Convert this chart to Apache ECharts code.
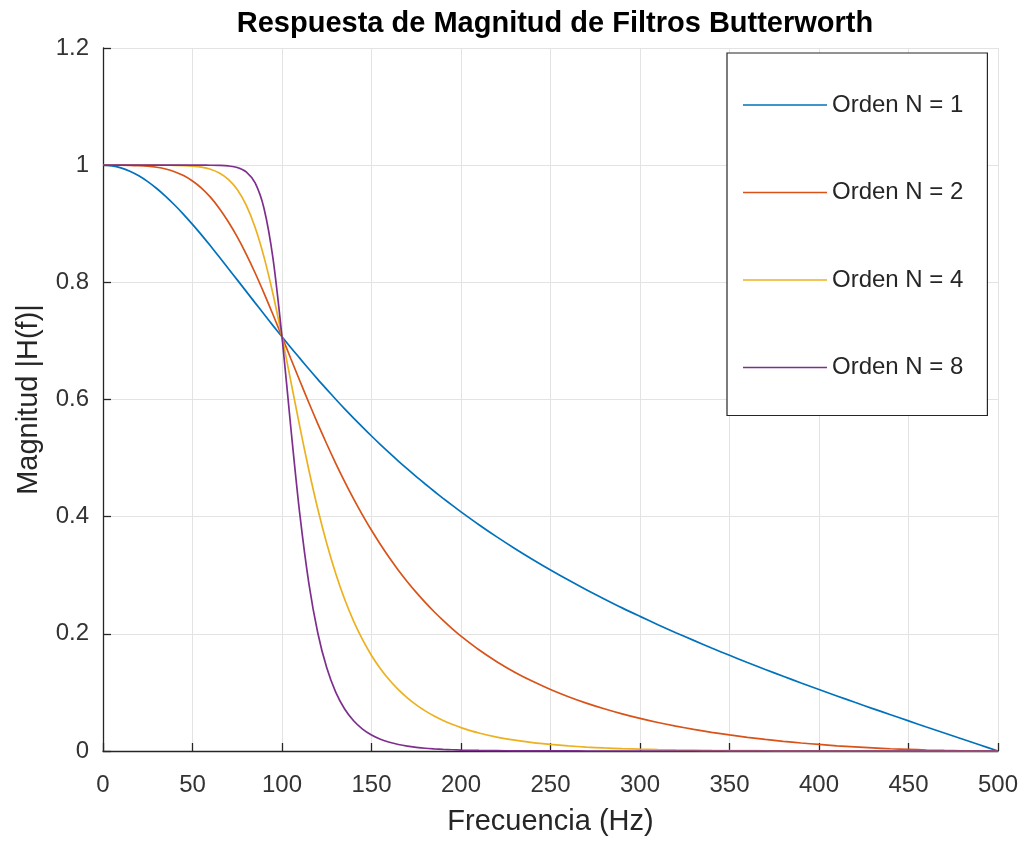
<!DOCTYPE html>
<html>
<head>
<meta charset="utf-8">
<script src="https://cdn.jsdelivr.net/npm/echarts@6/dist/echarts.min.js"></script>
<style>
html,body{margin:0;padding:0;background:#fff;}
#chart{width:1022px;height:841px;}
</style>
</head>
<body>
<div id="chart"></div>
<script>
// Frequencies (Hz)
const freq = [0,5,10,15,20,25,30,35,40,45,50,55,60,65,70,75,80,85,90,95,100,105,110,115,120,125,130,135,140,145,150,155,160,165,170,175,180,185,190,195,200,
  210,220,230,240,250,260,270,280,290,300,310,320,330,340,350,360,370,380,390,400,410,420,430,440,450,460,470,480,490,500];

const seriesNames = ['Orden N = 1','Orden N = 2','Orden N = 4','Orden N = 8'];

const magN1 = [1.0000,0.9988,0.9953,0.9896,0.9818,0.9719,0.9602,0.9468,0.9320,0.9161,0.8989,0.8810,0.8623,0.8431,0.8236,0.8042,0.7846,0.7649,0.7455,0.7261,0.7071,0.6883,0.6702,0.6521,0.6344,0.6173,0.6005,0.5841,0.5683,0.5528,0.5377,0.5230,0.5088,0.4949,0.4815,0.4684,0.4558,0.4434,0.4313,0.4196,0.4082,
  0.3863,0.3655,0.3458,0.3270,0.3090,0.2918,0.2753,0.2596,0.2443,0.2298,0.2156,0.2020,0.1888,0.1758,0.1633,0.1511,0.1392,0.1276,0.1161,0.1050,0.0940,0.0831,0.0724,0.0619,0.0514,0.0410,0.0307,0.0204,0.0102,0];

const magN2 = [1.0000,1.0000,1.0000,0.9998,0.9993,0.9983,0.9964,0.9934,0.9888,0.9822,0.9729,0.9609,0.9454,0.9262,0.9035,0.8775,0.8482,0.8159,0.7811,0.7447,0.7071,0.6692,0.6316,0.5945,0.5585,0.5240,0.4911,0.4599,0.4304,0.4027,0.3767,0.3525,0.3298,0.3086,0.2890,0.2707,0.2536,0.2377,0.2229,0.2090,0.1961,
  0.1728,0.1525,0.1346,0.1189,0.1050,0.0927,0.0818,0.0721,0.0634,0.0556,0.0487,0.0425,0.0369,0.0319,0.0274,0.0234,0.0198,0.0165,0.0137,0.0112,0.0089,0.0070,0.0053,0.0038,0.0027,0.0017,0.0009,0.0004,0.0001,0];

const magN4 = [1.0000,1.0000,1.0000,1.0000,1.0000,1.0000,1.0000,0.9999,0.9997,0.9993,0.9984,0.9966,0.9930,0.9866,0.9756,0.9584,0.9317,0.8935,0.8426,0.7796,0.7071,0.6300,0.5529,0.4796,0.4130,0.3541,0.3029,0.2590,0.2217,0.1900,0.1631,0.1404,0.1211,0.1047,0.0907,0.0788,0.0685,0.0598,0.0522,0.0456,0.0400,
  0.0308,0.0238,0.0185,0.0143,0.0112,0.0087,0.0067,0.0052,0.0040,0.0031,0.0024,0.0018,0.0014,0.0010,0.0008,0.0006,0.0004,0.0003,0.0002,0.0001,0.0001,0.0001,0,0,0,0,0,0,0,0];

const magN8 = [1.0000,1.0000,1.0000,1.0000,1.0000,1.0000,1.0000,1.0000,1.0000,1.0000,1.0000,1.0000,0.9999,0.9996,0.9987,0.9961,0.9886,0.9696,0.9257,0.8401,0.7071,0.5496,0.4029,0.2863,0.2015,0.1419,0.1005,0.0717,0.0516,0.0374,0.0273,0.0201,0.0149,0.0111,0.0083,0.0063,0.0047,0.0036,0.0027,0.0021,0.0016,
  0.0009,0.0006,0.0003,0.0002,0.0001,0.0001,0,0,0,0,0,0,0,0,0,0,0,0,0,0,0,0,0,0,0,0,0,0,0,0];

const colors = ['#0072BD','#D95319','#EDB120','#7E2F8E'];
const FONT = '"Liberation Sans", Arial, Helvetica, sans-serif';

const allMags = [magN1, magN2, magN4, magN8];

const chart = echarts.init(document.getElementById('chart'), null, {renderer:'canvas'});
chart.setOption({
  animation: false,
  backgroundColor: '#ffffff',
  color: colors,
  title: {
    text: 'Respuesta de Magnitud de Filtros Butterworth',
    left: 550,
    textAlign: 'center',
    top: 4,
    textStyle: {fontFamily: FONT, fontSize: 29, fontWeight: 'bold', color: '#000'}
  },
  grid: {left: 103, right: 24, top: 48, bottom: 88, containLabel: false},
  legend: {
    orient: 'vertical',
    left: 727,
    top: 53,
    padding: [40, 24, 36, 16],
    icon: 'rect',
    itemWidth: 84,
    itemHeight: 1.7,
    itemGap: 63.5,
    itemTextGap: 7,
    backgroundColor: '#ffffff',
    borderColor: '#262626',
    borderWidth: 1.2,
    borderRadius: 0,
    textStyle: {fontFamily: FONT, fontSize: 24, color: '#262626', lineHeight: 24},
    data: seriesNames
  },
  xAxis: {
    type: 'value',
    min: 0, max: 500, interval: 50,
    name: 'Frecuencia (Hz)',
    nameLocation: 'middle',
    nameGap: 56,
    nameTextStyle: {fontFamily: FONT, fontSize: 29, color: '#262626'},
    axisLine: {show: true, onZero: false, lineStyle: {color: '#262626', width: 1.3}},
    axisTick: {show: true, inside: true, length: 8, lineStyle: {color: '#262626', width: 1.3}},
    axisLabel: {fontFamily: FONT, fontSize: 24, color: '#333', margin: 22},
    splitLine: {show: true, lineStyle: {color: '#e3e3e3', width: 1}}
  },
  yAxis: {
    type: 'value',
    min: 0, max: 1.2, interval: 0.2,
    name: 'Magnitud |H(f)|',
    nameLocation: 'middle',
    nameRotate: 90,
    nameGap: 60,
    nameTextStyle: {fontFamily: FONT, fontSize: 29, color: '#262626'},
    axisLine: {show: true, onZero: false, lineStyle: {color: '#262626', width: 1.3}},
    axisTick: {show: true, inside: true, length: 8, lineStyle: {color: '#262626', width: 1.3}},
    axisLabel: {fontFamily: FONT, fontSize: 24, color: '#333', margin: 14},
    splitLine: {show: true, lineStyle: {color: '#e3e3e3', width: 1}}
  },
  series: seriesNames.map((name, i) => ({
    name: name,
    type: 'line',
    data: freq.map((f, k) => [f, allMags[i][k]]),
    showSymbol: false,
    symbol: 'none',
    smooth: 0.3,
    lineStyle: {width: 1.7, color: colors[i]},
    itemStyle: {color: colors[i]},
    z: 3 + i
  }))
});
</script>
</body>
</html>
